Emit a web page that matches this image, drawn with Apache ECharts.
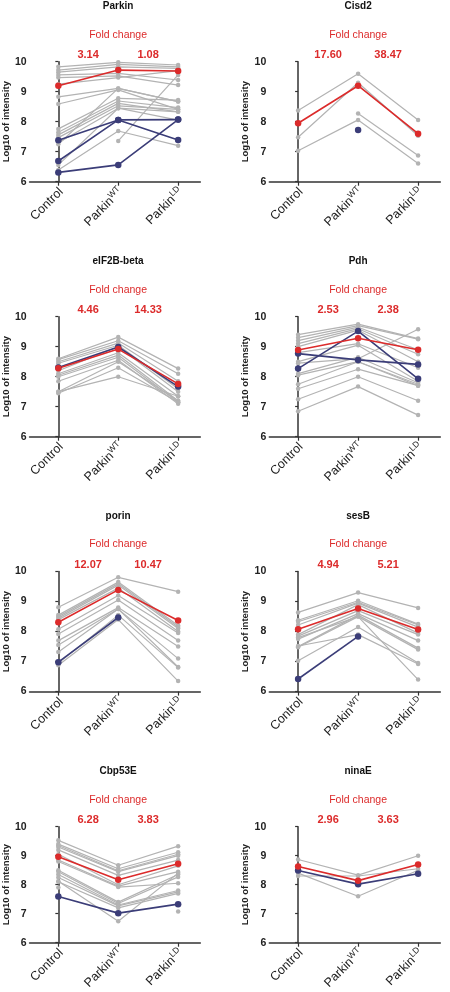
<!DOCTYPE html>
<html>
<head>
<meta charset="utf-8">
<script src="https://cdn.jsdelivr.net/npm/echarts@6/dist/echarts.min.js"></script>
<style>
html,body{margin:0;padding:0;background:#fff;}
#chart{width:450px;height:992px;}
</style>
</head>
<body>
<div id="chart"></div>
<script>
// ---- data ----
const categoryLabels = ['Control', 'Parkin{sup|WT}', 'Parkin{sup|LD}'];
const panelTitles = ['Parkin', 'Cisd2', 'eIF2B-beta', 'Pdh', 'porin', 'sesB', 'Cbp53E', 'ninaE'];
const foldChanges = [['3.14', '1.08'], ['17.60', '38.47'], ['4.46', '14.33'], ['2.53', '2.38'],
                     ['12.07', '10.47'], ['4.94', '5.21'], ['6.28', '3.83'], ['2.96', '3.63']];
const yTicks = [6, 7, 8, 9, 10];

const parkinGray = [
  [9.83, 9.98, 9.89], [9.72, 9.91, 9.83], [9.65, 9.83, 9.78], [9.56, 9.61, 9.39],
  [9.47, 9.53, 9.22], [9.25, 9.47, 9.7], [8.83, 9.11, 8.67], [8.59, 9.06, 8.41],
  [7.76, 8.78, 8.72], [7.65, 8.69, 8.47], [7.56, 8.61, 8.33], [7.47, 8.53, 8.41],
  [7.3, 8.45, 8.05], [7.25, 9.11, 8.67], [6.56, 8.45, 8.33], [6.39, 7.69, 7.2],
  [null, 7.36, 9.56]
];
const parkinBlue = [[7.38, 8.06, 7.39], [6.69, 8.06, 8.07], [6.31, 6.56, 8.07]];
const parkinRed = [9.2, 9.72, 9.69];

const cisd2Gray = [[8.37, 9.6, 8.06], [7.48, 9.3, 7.53], [7.03, 8.06, 6.61], [null, 8.27, 6.87]];
const cisd2Blue = [[null, 7.72, null]];
const cisd2Red = [7.95, 9.2, 7.6];

const eif2bGray = [
  [8.6, 9.32, 8.27], [8.57, 9.2, 8.1], [8.5, 9.12, 7.85], [8.45, 9.05, 7.6],
  [8.2, 9.0, 7.5], [8.1, 8.8, 7.35], [8.05, 8.72, 7.2], [8.0, 8.65, 7.15],
  [7.85, 8.55, 7.1], [7.5, 8.5, 7.2], [7.45, 8.3, 7.15], [7.5, 8.0, 7.35]
];
const eif2bBlue = [[8.31, 8.99, 7.67]];
const eif2bRed = [8.28, 8.92, 7.76];

const pdhGray = [
  [9.4, 9.75, 9.27], [9.3, 9.7, 9.25], [9.2, 9.65, 8.9], [9.1, 9.6, 8.75],
  [9.0, 9.55, 8.5], [8.8, 9.1, 8.3], [8.5, 9.05, 7.85], [8.45, 8.6, 9.58],
  [8.1, 8.65, 7.8], [8.05, 8.5, 7.75], [7.75, 8.5, 7.7], [7.6, 8.25, 7.7],
  [7.25, 8.0, 7.2], [6.85, 7.67, 6.72]
];
const pdhBlue = [[8.27, 9.52, 7.93], [8.77, 8.56, 8.41]];
const pdhRed = [8.89, 9.28, 8.9];

const porinGray = [
  [8.81, 9.81, 9.33], [8.55, 9.65, 8.2], [8.5, 9.6, 8.15], [8.45, 9.55, 8.1],
  [8.4, 9.45, 8.0], [8.08, 9.2, 7.95], [7.92, 9.05, 7.7], [7.7, 8.8, 7.5],
  [7.55, 8.75, 7.1], [7.32, 8.75, 6.82], [6.95, 8.55, 6.8], [6.88, 8.4, 6.35]
];
const porinBlue = [[6.98, 8.47, null]];
const porinRed = [8.31, 9.39, 8.37];

const sesbGray = [
  [8.64, 9.3, 8.79], [8.38, 9.03, 8.25], [8.33, 8.98, 8.22], [8.22, 8.95, 8.15],
  [7.9, 8.9, 7.95], [7.85, 8.7, 7.9], [7.75, 8.6, 7.7], [7.5, 8.55, 7.45],
  [7.48, 8.5, 7.4], [7.03, 8.15, 6.95], [7.52, 7.9, 6.92], [7.8, 8.5, 6.4]
];
const sesbBlue = [[6.42, 7.84, null]];
const sesbRed = [8.08, 8.77, 8.07];

const cbpGray = [
  [9.53, 8.67, 9.33], [9.4, 8.55, 9.12], [9.35, 8.48, 9.05], [9.3, 8.45, 9.0],
  [9.2, 8.32, 8.85], [9.05, 8.0, 8.65], [8.85, 7.95, 8.45], [8.8, 7.92, 8.05],
  [8.5, 7.4, 8.35], [8.45, 7.35, 8.27], [8.35, 7.3, 7.8], [8.25, 7.27, 7.75],
  [8.1, 7.2, 7.7], [8.12, 6.74, 8.4], [7.9, null, null], [null, null, 7.08]
];
const cbpBlue = [[7.59, 7.02, 7.33]];
const cbpRed = [8.96, 8.17, 8.72];

const ninaeGray = [[8.87, 8.33, 9.0], [8.4, 7.6, 8.5], [8.3, 8.3, 8.55]];
const ninaeBlue = [[8.49, 8.02, 8.38]];
const ninaeRed = [8.63, 8.14, 8.7];

// ---- build ----
const panelGray = [parkinGray, cisd2Gray, eif2bGray, pdhGray, porinGray, sesbGray, cbpGray, ninaeGray];
const panelBlue = [parkinBlue, cisd2Blue, eif2bBlue, pdhBlue, porinBlue, sesbBlue, cbpBlue, ninaeBlue];
const panelRed = [parkinRed, cisd2Red, eif2bRed, pdhRed, porinRed, sesbRed, cbpRed, ninaeRed];

const FONT = '"Liberation Sans", Arial, sans-serif';
const GRAY = '#b3b3b3', BLUE = '#3b3d78', RED = '#dc2b2b';
const rowTops = [61.7, 316.7, 571.6, 826.7];
const colLefts = [29.3, 269.3];
const gridW = 171, gridH = 120;
const xMin = -0.48, xMax = 2.37;

const grids = [], xAxes = [], yAxes = [], series = [], graphics = [];
function catX(col, v) { return colLefts[col] + (v - xMin) / (xMax - xMin) * gridW; }
function toData(vals) { return vals.map((v, i) => [i, v == null ? '-' : v]); }

panelTitles.forEach((title, p) => {
  const col = p % 2, row = Math.floor(p / 2);
  const top = rowTops[row];
  grids.push({ left: colLefts[col], top: top, width: gridW, height: gridH });
  xAxes.push({
    type: 'value', gridIndex: p, min: xMin, max: xMax,
    splitLine: { show: false },
    axisLine: { show: true, onZero: false, lineStyle: { color: '#333', width: 1.5 } },
    axisTick: { show: true, customValues: [0, 1, 2], length: 4, lineStyle: { color: '#333', width: 1.2 } },
    axisLabel: {
      customValues: [0, 1, 2], rotate: 45, margin: 11, color: '#222',
      fontFamily: FONT, fontSize: 12.5, padding: [0, -4, 0, 0],
      formatter: v => categoryLabels[Math.round(v)],
      rich: { sup: { fontSize: 8.5, fontFamily: FONT, color: '#222', verticalAlign: 'top', padding: [0, 0, 7, 0] } }
    }
  });
  yAxes.push({
    type: 'value', gridIndex: p, min: yTicks[0], max: yTicks[yTicks.length - 1], interval: 1,
    splitLine: { show: false },
    axisLine: { show: true, lineStyle: { color: '#333', width: 1.5 } },
    axisTick: { show: true, length: 3, lineStyle: { color: '#333', width: 1.2 } },
    axisLabel: { color: '#222', fontFamily: FONT, fontSize: 10.5, fontWeight: 'bold', margin: 3 },
    name: 'Log10 of intensity', nameLocation: 'middle', nameGap: 17, nameRotate: 90,
    nameTextStyle: { color: '#222', fontFamily: FONT, fontSize: 9.5, fontWeight: 'bold' }
  });
  const lineBase = (color, w, sym) => ({
    type: 'line', xAxisIndex: p, yAxisIndex: p, symbol: 'circle', symbolSize: sym,
    showSymbol: true, animation: false, connectNulls: false, silent: true,
    lineStyle: { color: color, width: w }, itemStyle: { color: color }
  });
  panelGray[p].forEach(vals => series.push(Object.assign(lineBase(GRAY, 1.2, 4.5), { data: toData(vals) })));
  panelBlue[p].forEach(vals => series.push(Object.assign(lineBase(BLUE, 1.6, 6.5), { data: toData(vals) })));
  series.push(Object.assign(lineBase(RED, 1.6, 6.5), { data: toData(panelRed[p]) }));

  const wtX = catX(col, 1);
  graphics.push({ type: 'text', x: wtX, y: top - 55.5, style: { text: title, fill: '#111', font: 'bold 10px ' + FONT, textAlign: 'center', textVerticalAlign: 'middle' } });
  graphics.push({ type: 'text', x: wtX, y: top - 27, style: { text: 'Fold change', fill: RED, font: '10.5px ' + FONT, textAlign: 'center', textVerticalAlign: 'middle' } });
  foldChanges[p].forEach((fc, k) => {
    graphics.push({ type: 'text', x: (catX(col, k) + catX(col, k + 1)) / 2, y: top - 7, style: { text: fc, fill: RED, font: 'bold 11px ' + FONT, textAlign: 'center', textVerticalAlign: 'middle' } });
  });
});

const chart = echarts.init(document.getElementById('chart'), null, { renderer: 'canvas' });
chart.setOption({
  animation: false,
  backgroundColor: '#fff',
  grid: grids, xAxis: xAxes, yAxis: yAxes, series: series, graphic: graphics
});
</script>
</body>
</html>
